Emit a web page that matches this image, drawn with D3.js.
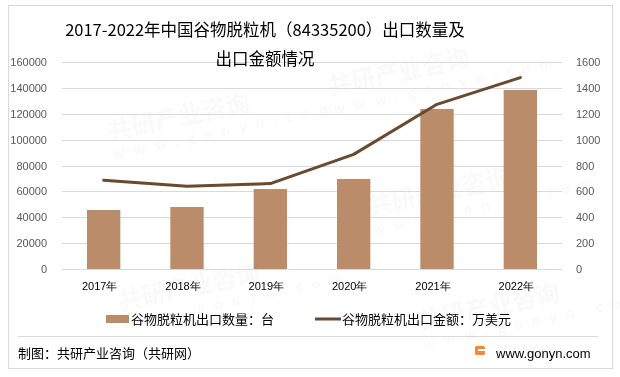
<!DOCTYPE html>
<html>
<head>
<meta charset="utf-8">
<script src="https://cdn.jsdelivr.net/npm/d3@7"></script>
<style>
body { margin: 0; background: #fff; }
svg { display: block; font-family: "Noto Sans CJK SC", "Noto Sans", sans-serif; }
</style>
</head>
<body>
<svg width="620" height="377"></svg>
<script>
var years = ['2017年', '2018年', '2019年', '2020年', '2021年', '2022年'];
var quantity = [45600, 47900, 61800, 69600, 123700, 138400];   // 台
var amount = [686, 639, 660, 886, 1273, 1479];                  // 万美元
var leftTicks = [0, 20000, 40000, 60000, 80000, 100000, 120000, 140000, 160000];
var rightTicks = [0, 200, 400, 600, 800, 1000, 1200, 1400, 1600];

var svg = d3.select('svg');
var margin = {left: 62, right: 58, top: 62, bottom: 108};
var width = 620, height = 377;
var innerWidth = width - margin.left - margin.right;
var innerHeight = 269 - margin.top;

var barColor = '#BA8C6A', lineColor = '#6A4A2F';

// frame
svg.append('rect').attr('x', 8.5).attr('y', 5.5).attr('width', 604).attr('height', 363)
	.attr('fill', 'none').attr('stroke', '#d9d9d9');
svg.append('line').attr('x1', 18).attr('x2', 598).attr('y1', 336.5).attr('y2', 336.5)
	.attr('stroke', '#d9d9d9');

// faint watermarks
var wm = svg.append('g').attr('fill', '#000').attr('opacity', 0.025)
	.style('font-weight', 'bold');
[[110, 140], [330, 95], [370, 215], [120, 310], [420, 330]].forEach(p => {
	var g = wm.append('g').attr('transform', `translate(${p[0]},${p[1]}) rotate(-12)`);
	g.append('text').attr('font-size', 24).text('共研产业咨询');
	g.append('text').attr('y', 20).attr('font-size', 14).attr('letter-spacing', 9).text('www.gonyn.com');
});

var xscale = d3.scaleBand().domain(years).range([0, innerWidth]).paddingInner(0.6).paddingOuter(0.3);
var xcenter = d3.scaleBand().domain(years).range([0, innerWidth]);
var yscale = d3.scaleLinear().domain([0, 160000]).range([innerHeight, 0]);
var y2scale = d3.scaleLinear().domain([0, 1600]).range([innerHeight, 0]);

var g = svg.append('g').attr('transform', `translate(${margin.left},${margin.top})`);

// gridlines
g.append('g').selectAll('line').data(leftTicks).enter().append('line')
	.attr('x1', 0).attr('x2', innerWidth)
	.attr('y1', d => Math.round(yscale(d)) + 0.5).attr('y2', d => Math.round(yscale(d)) + 0.5)
	.attr('stroke', '#d9d9d9');

// left axis
var yaxis = g.append('g').attr('transform', 'translate(-12,0)')
	.call(d3.axisLeft(yscale).tickValues(leftTicks).tickSize(0).tickFormat(d3.format('d')));
yaxis.select('.domain').remove();
yaxis.selectAll('text').attr('fill', '#595959').attr('font-size', 11)
	.style('font-family', '"Liberation Sans", Arial, sans-serif');

// right axis
var y2axis = g.append('g').attr('transform', `translate(${innerWidth + 11},0)`)
	.call(d3.axisRight(y2scale).tickValues(rightTicks).tickSize(0).tickFormat(d3.format('d')));
y2axis.select('.domain').remove();
y2axis.selectAll('text').attr('fill', '#595959').attr('font-size', 11)
	.style('font-family', '"Liberation Sans", Arial, sans-serif');

// bars
g.selectAll('rect.bar').data(quantity).enter().append('rect').attr('class', 'bar')
	.attr('x', (d, i) => xscale(years[i]))
	.attr('y', d => yscale(d))
	.attr('width', xscale.bandwidth())
	.attr('height', d => innerHeight - yscale(d))
	.attr('fill', barColor);

// line
var line = d3.line()
	.x((d, i) => xcenter(years[i]) + xcenter.bandwidth() / 2)
	.y(d => y2scale(d));
g.append('path').datum(amount).attr('d', line)
	.attr('fill', 'none').attr('stroke', lineColor).attr('stroke-width', 3)
	.attr('stroke-linejoin', 'round').attr('stroke-linecap', 'round');

// x labels
var xaxis = g.append('g').attr('transform', `translate(-4,${innerHeight + 10})`)
	.call(d3.axisBottom(xcenter).tickSize(0));
xaxis.select('.domain').remove();
xaxis.selectAll('text').attr('fill', '#000').attr('font-size', 11);

// title
var title = svg.append('text').attr('text-anchor', 'middle').attr('font-size', 16.5).attr('fill', '#000');
title.append('tspan').attr('x', 265).attr('y', 36).text('2017-2022年中国谷物脱粒机（84335200）出口数量及');
title.append('tspan').attr('x', 265).attr('y', 65).text('出口金额情况');

// legend
var lg = svg.append('g').attr('font-size', 13).attr('fill', '#000');
lg.append('rect').attr('x', 106).attr('y', 315).attr('width', 23).attr('height', 8).attr('fill', barColor);
lg.append('text').attr('x', 131).attr('y', 324).text('谷物脱粒机出口数量：台');
lg.append('line').attr('x1', 315).attr('x2', 341).attr('y1', 319).attr('y2', 319)
	.attr('stroke', lineColor).attr('stroke-width', 3);
lg.append('text').attr('x', 342).attr('y', 324).text('谷物脱粒机出口金额：万美元');

// footer
svg.append('text').attr('x', 18).attr('y', 358).attr('font-size', 13).text('制图：共研产业咨询（共研网）');
var logo = svg.append('g').attr('transform', 'translate(475,346)');
logo.append('rect').attr('width', 10).attr('height', 9).attr('rx', 1.5).attr('fill', '#F08A3C');
logo.append('rect').attr('x', 3).attr('y', 3).attr('width', 7).attr('height', 2).attr('fill', '#fff');
svg.append('text').attr('x', 496).attr('y', 358).attr('font-size', 13)
	.style('font-family', '"Liberation Sans", Arial, sans-serif').text('www.gonyn.com');
</script>
</body>
</html>
